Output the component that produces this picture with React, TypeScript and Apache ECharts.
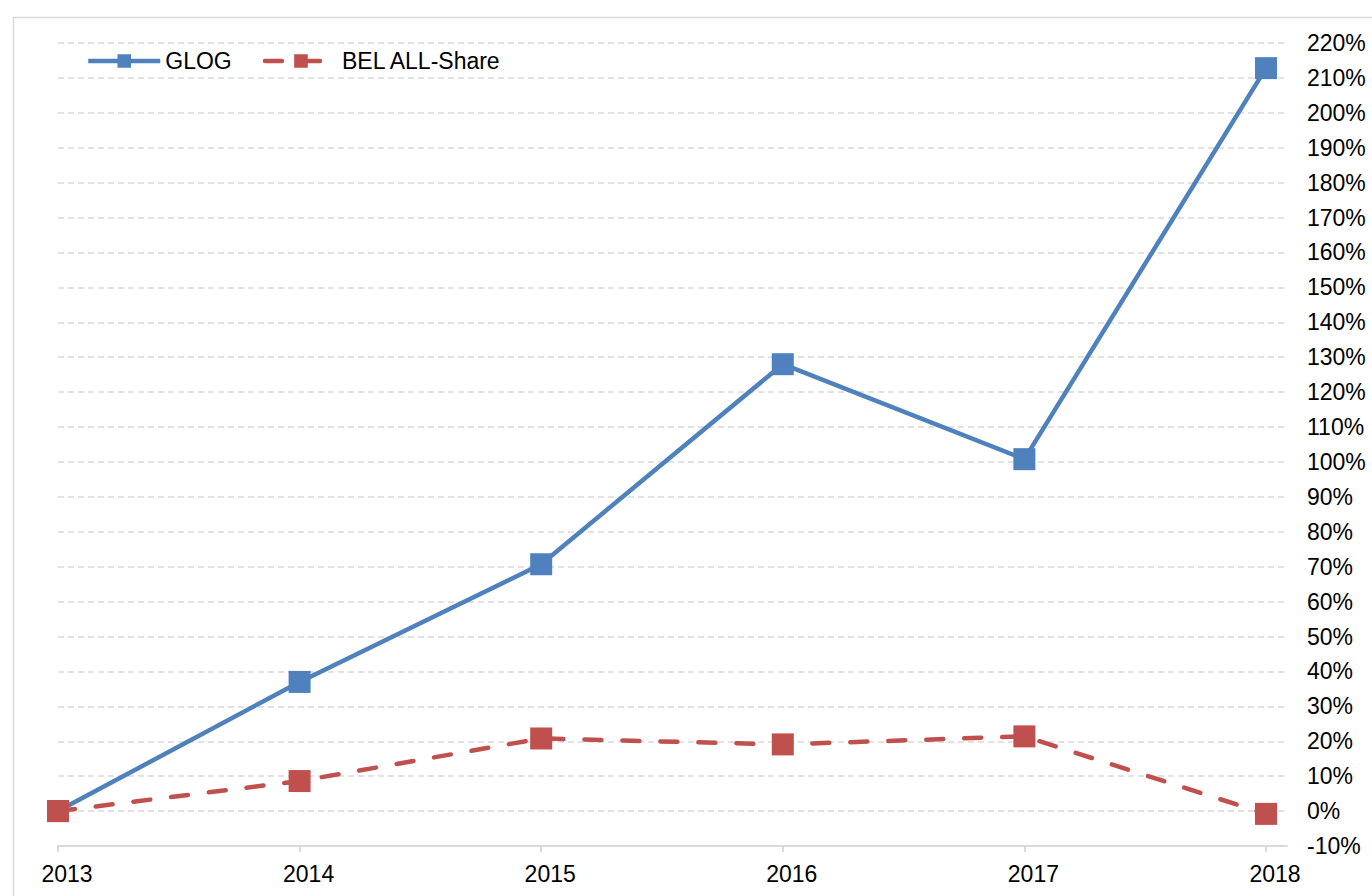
import React, { useEffect, useRef } from "react";
import * as echarts from "echarts";

const years = [2013, 2014, 2015, 2016, 2017, 2018];
const glog = [0, 37.0, 70.7, 128.0, 100.8, 212.8];
const belAllShare = [0, 8.6, 20.8, 19.1, 21.4, -0.8];
const seriesNames = ["GLOG", "BEL ALL-Share"];

const FONT = "'Liberation Sans', Arial, sans-serif";

export default function App() {
  const ref = useRef<HTMLDivElement>(null);
  useEffect(() => {
    if (!ref.current) return;
    const chart = echarts.init(ref.current, null, { renderer: "svg" });
    chart.setOption({
      animation: false,
      backgroundColor: "#ffffff",
      textStyle: { fontFamily: FONT },
      graphic: [
        {
          type: "rect",
          left: 11,
          top: 15,
          shape: { width: 1400, height: 1000 },
          style: { fill: "none", stroke: "#d9d9d9", lineWidth: 1.5 },
          silent: true,
          z: -10,
        },
      ],
      legend: {
        left: 81,
        top: 44.5,
        itemWidth: 72,
        itemHeight: 17,
        itemGap: 31,
        lineStyle: { width: 4.5 },
        textStyle: { fontFamily: FONT, fontSize: 23, color: "#000" },
        data: seriesNames,
      },
      grid: { left: 58, right: 85, top: 43, bottom: 50 },
      xAxis: {
        type: "value",
        min: 2013,
        max: 2018.087,
        interval: 1,
        splitLine: { show: false },
        axisLine: { show: true, onZero: false, lineStyle: { color: "#d9d9d9", width: 2 } },
        axisTick: {
          show: true,
          length: 6,
          lineStyle: { color: "#d9d9d9", width: 2 },
          customValues: years,
        },
        axisLabel: {
          customValues: years,
          formatter: (v: number) => String(Math.round(v)),
          fontFamily: FONT,
          fontSize: 23,
          color: "#000",
          margin: 16,
          padding: [0, 0, 0, 18],
        },
      },
      yAxis: {
        type: "value",
        position: "right",
        min: -10,
        max: 220,
        interval: 10,
        axisLine: { show: false },
        axisTick: { show: false },
        splitLine: {
          show: true,
          lineStyle: { color: "#d9d9d9", type: [6, 4], width: 1.5 },
        },
        axisLabel: {
          formatter: "{value}%",
          fontFamily: FONT,
          fontSize: 23,
          color: "#000",
          margin: 20,
        },
      },
      series: [
        {
          name: seriesNames[0],
          type: "line",
          data: years.map((y, i) => [y, glog[i]]),
          symbol: "rect",
          symbolSize: 22,
          color: "#4F81BD",
          lineStyle: { color: "#4F81BD", width: 4.5 },
          itemStyle: { color: "#4F81BD" },
          z: 2,
        },
        {
          name: seriesNames[1],
          type: "line",
          data: years.map((y, i) => [y, belAllShare[i]]),
          symbol: "rect",
          symbolSize: 22,
          color: "#C0504D",
          lineStyle: { color: "#C0504D", width: 4.5, type: [17, 21], cap: "round" },
          itemStyle: { color: "#C0504D" },
          z: 3,
        },
      ],
    });
    return () => chart.dispose();
  }, []);
  return (
    <div
      ref={ref}
      style={{ position: "fixed", left: 0, top: 0, width: 1372, height: 896 }}
    />
  );
}
